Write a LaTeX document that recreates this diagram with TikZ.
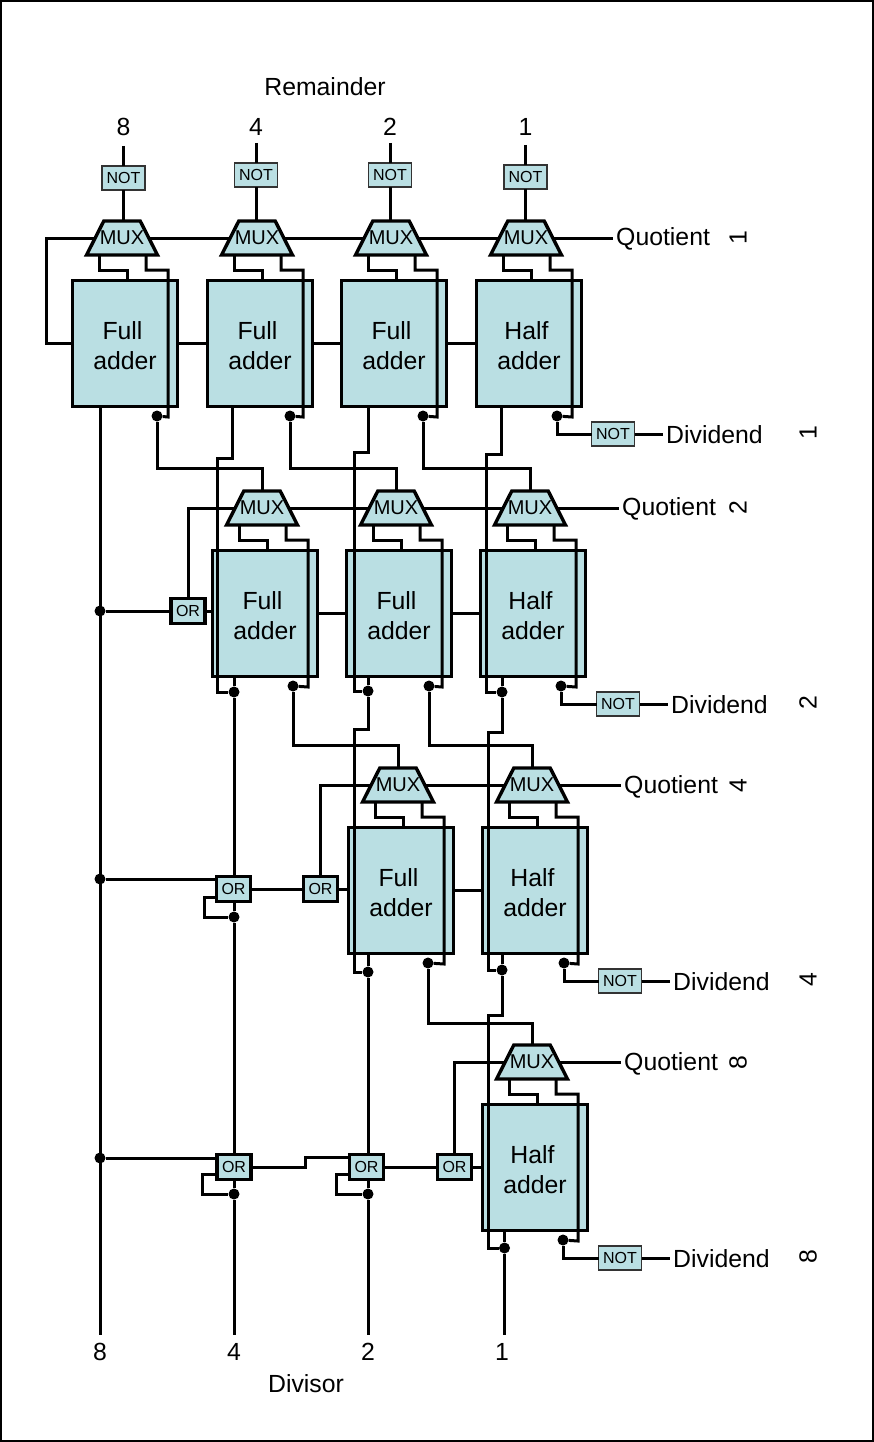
\documentclass[tikz,border=0pt]{standalone}
\usepackage{fontspec}
\setmainfont{Liberation Sans}
\usepackage{tikz}
\usetikzlibrary{shapes.geometric}

\definecolor{gatefill}{HTML}{BADFE3}

\begin{document}
\begin{tikzpicture}[x=1pt, y=-1pt,
    wire/.style={line width=3pt},
    adderbox/.style={draw, fill=gatefill, line width=3.4pt, outer sep=0pt, inner sep=0pt,
        minimum width=105.5pt, minimum height=126.5pt, align=center,
        font=\fontsize{24.8}{30}\selectfont},
    muxbox/.style={draw, fill=gatefill, line width=3.4pt, outer sep=0pt, inner sep=0pt,
        trapezium, trapezium stretches=true, trapezium angle=63,
        minimum width=71pt, minimum height=34pt, font=\fontsize{20}{20}\selectfont},
    notbox/.style={draw=black!80, fill=gatefill, line width=1.6pt, outer sep=0pt, inner sep=0pt,
        minimum width=43pt, minimum height=24pt, font=\fontsize{16}{16}\selectfont},
    orbox/.style={draw, fill=gatefill, line width=3.4pt, outer sep=0pt, inner sep=0pt,
        minimum width=34pt, minimum height=25pt, font=\fontsize{16}{16}\selectfont},
    dotnode/.style={circle, fill=black, inner sep=0pt, minimum size=11pt},
    textlabel/.style={inner sep=3pt, font=\fontsize{24.8}{30}\selectfont},
    ]
    \useasboundingbox (0,0) rectangle (874,1442);
    \draw[line width=1.5pt] (1,1) rectangle (873,1441);

    % adder, its mux and the carry dot
    \foreach \nm/\L/\T/\dotx/\kind in {11/71/279/86/Full, 12/206/279/84/Full, 13/340/279/83/Full, 14/475/279/82/Half,
        21/211/549/82/Full, 22/345/549/84/Full, 23/479/549/82/Half,
        31/347/826/81/Full, 32/481/826/83/Half, 41/481/1103/82/Half} {
        \node[adderbox] (add\nm) at (\L+54,\T+64.5) {\rule{0pt}{22pt}\kind\kern5pt\\adder};
        \node[muxbox] (mux\nm) at (\L+51,\T-41) {\makebox[15pt]{MUX}};
        \node[dotnode] (dot\nm) at (\L+\dotx,\T+137) {};
        \coordinate (elb\nm) at (\L+97,\T+138);
        \draw[wire] ([xshift=-23pt]mux\nm.south) -- ++(0,15) -| ([xshift=2pt]add\nm.north);
        \draw[wire] ([xshift=24pt]mux\nm.south) -- ++(0,15) -| (elb\nm) -- (dot\nm);
    }

    \foreach \i/\xc/\yc/\val in {1/123.5/178/8, 2/256/175/4, 3/390/175/2, 4/525.5/177/1} {
        \node[textlabel] (rem\i) at (\xc,127) {\val};
        \node[notbox] (not\i) at (\xc,\yc) {NOT};
        \coordinate (stub\i) at ([yshift=20pt]not\i.north);
        \draw[wire] (stub\i) -- (not\i.north);
        \draw[wire] (not\i.south) -- (not\i.south |- mux1\i.north);
    }
    \node[textlabel] (remainder) at (325,87) {Remainder};

    \coordinate (loop) at (46,290);
    \draw[wire] (mux11.west) -| (loop) |- (add11.west);
    \draw[wire] (mux11.east) -- (mux12.west);
    \draw[wire] (mux12.east) -- (mux13.west);
    \draw[wire] (mux13.east) -- (mux14.west);
    \draw[wire] (mux21.east) -- (mux22.west);
    \draw[wire] (mux22.east) -- (mux23.west);
    \draw[wire] (mux31.east) -- (mux32.west);
    \draw[wire] (add11.east) -- (add12.west);
    \draw[wire] (add12.east) -- (add13.west);
    \draw[wire] (add13.east) -- (add14.west);
    \draw[wire] (add21.east) -- (add22.west);
    \draw[wire] (add22.east) -- (add23.west);
    \draw[wire] (add31.east) -- (add32.west);

    % carries into the next row
    \draw[wire] (dot11) -- ++(0,52) -| (mux21.north);
    \draw[wire] (dot12) -- ++(0,52) -| (mux22.north);
    \draw[wire] (dot13) -- ++(0,52) -| (mux23.north);
    \draw[wire] (dot21) -- ++(0,59) -| (mux31.north);
    \draw[wire] (dot22) -- ++(0,59) -| (mux32.north);
    \draw[wire] (dot31) -- ++(0,60) -| (mux41.north);

    % quotient and dividend ends
    \foreach \r/\mm/\dd/\qx/\qy/\nx/\ny/\val in {1/14/14/616/237/613/434/1, 2/23/23/622/507/618/704/2,
        3/32/32/624/785/620/981/4, 4/41/41/624/1062/620/1258/8} {
        \node[textlabel, anchor=west] (quo\r) at (\qx-3,\qy+2) {Quotient};
        \node[textlabel, rotate=90] (qbit\r) at (738,\qy+1) {\val};
        \draw[wire] (mux\mm.east) -- (mux\mm.east -| quo\r.west);
        \node[notbox] (inv\r) at (\nx,\ny) {NOT};
        \node[textlabel, anchor=west] (dvd\r) at (\nx+50,\ny+1) {Dividend};
        \node[textlabel, rotate=90] (dbit\r) at (808,\ny-1) {\val};
        \draw[wire] (dot\dd) |- (inv\r.west);
        \draw[wire] (inv\r.east) -- (inv\r.east -| dvd\r.west);
    }

    \node[dotnode] (tap2) at (100,611) {};
    \node[dotnode] (tap3) at (100,879) {};
    \node[dotnode] (tap4) at (100,1158) {};
    \node[orbox] (or21) at (188,611) {OR};
    \node[orbox] (or31) at (233.5,889) {OR};
    \node[orbox] (or32) at (320.5,889) {OR};
    \node[orbox] (or41) at (234,1167) {OR};
    \node[orbox] (or42) at (366.5,1167) {OR};
    \node[orbox] (or43) at (454.5,1167) {OR};
    \node[dotnode] (sum21) at (234,692) {};
    \node[dotnode] (sum22) at (368,691) {};
    \node[dotnode] (sum23) at (502,692) {};
    \node[dotnode] (sum31) at (368,972) {};
    \node[dotnode] (sum32) at (502,970) {};
    \node[dotnode] (sum41) at (504.5,1248) {};
    \node[dotnode] (fb31) at (234,917) {};
    \node[dotnode] (fb41) at (234,1194) {};
    \node[dotnode] (fb42) at (368,1194) {};
    \node[textlabel] (div8) at (100,1352) {8};
    \node[textlabel] (div4) at (234,1352) {4};
    \node[textlabel] (div2) at (368,1352) {2};
    \node[textlabel] (div1) at (502,1352) {1};
    \node[textlabel] (divisor) at (306,1384) {Divisor};
    \coordinate (end8) at (100,1335);
    \coordinate (end4) at (234,1335);
    \coordinate (end2) at (368,1335);
    \coordinate (end1) at (504.5,1335);

    % sums going down
    \draw[wire] ([xshift=-25pt]add11.south) -- (end8);
    \draw[wire] (tap2) -- (or21.west);
    \draw[wire] (tap3) -- (tap3 -| or31.west);
    \draw[wire] (tap4) -- (tap4 -| or41.west);
    \draw[wire] ([xshift=-28pt]add12.south) -- ++(0,52) -- ++(-15,0) |- (sum21);
    \draw[wire] ([xshift=-26pt]add13.south) -- ++(0,46) -- ++(-14,0) |- (sum22);
    \draw[wire] ([xshift=-28pt]add14.south) -- ++(0,48) -- ++(-15,0) |- (sum23);
    \draw[wire] (add21.south -| sum21) -- (sum21) -- (sum21 |- or31.north);
    \draw[wire] (add22.south -| sum22) -- (sum22) -- ++(0,38) -- ++(-14,0) |- (sum31);
    \draw[wire] (add23.south -| sum23) -- (sum23) -- ++(0,40) -- ++(-14,0) |- (sum32);
    \draw[wire] (add31.south -| sum31) -- (sum31) -- (sum31 |- or42.north);
    \draw[wire] (add32.south -| sum32) -- (sum32) -- ++(0,45) -- ++(-14,0) |- (sum41);
    \draw[wire] (add41.south -| sum41) -- (sum41) -- (end1);
    \draw[wire] (fb31 |- or31.south) -- (fb31) -- (fb31 |- or41.north);
    \draw[wire] (fb41 |- or41.south) -- (fb41) -- (end4);
    \draw[wire] (fb42 |- or42.south) -- (fb42) -- (end2);

    % or chain
    \draw[wire] (or21.east) -- (or21.east -| add21.west);
    \draw[wire] (or21.north) |- (mux21.west);
    \draw[wire] (or31.east) -- (or32.west);
    \draw[wire] (or32.east) -- (or32.east -| add31.west);
    \draw[wire] (or32.north) |- (mux31.west);
    \draw[wire] ([yshift=-8pt]or31.west) -- ++(-12,0) |- (fb31);
    \draw[wire] (or41.east) -- ++(54,0) |- ([yshift=10pt]or42.west);
    \draw[wire] (or42.east) -- (or43.west);
    \draw[wire] (or43.east) -- (or43.east -| add41.west);
    \draw[wire] (or43.north) |- (mux41.west);
    \draw[wire] ([yshift=-7pt]or41.west) -- ++(-15,0) |- (fb41);
    \draw[wire] ([yshift=-7pt]or42.west) -- ++(-13,0) |- (fb42);
\end{tikzpicture}
\end{document}
